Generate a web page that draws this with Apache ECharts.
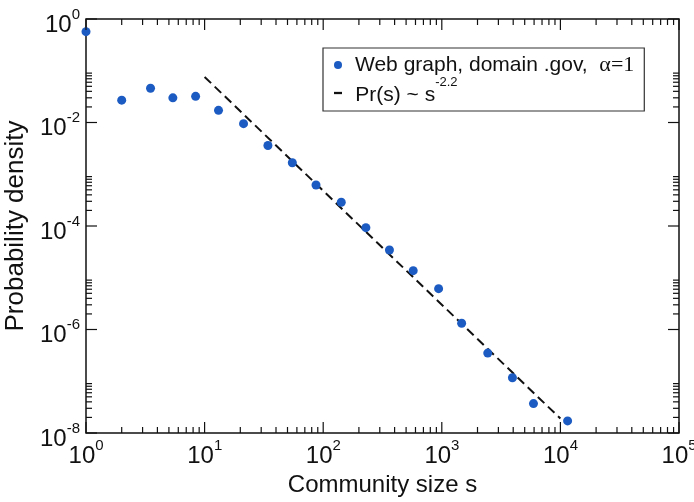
<!DOCTYPE html>
<html>
<head>
<meta charset="utf-8">
<script src="https://cdn.jsdelivr.net/npm/echarts@6.0.0/dist/echarts.min.js"></script>
<style>
  html, body { margin: 0; padding: 0; background: #fff; }
  #chart { width: 694px; height: 502px; }
</style>
</head>
<body>
<div id="chart"></div>
<script>
// Community size distribution, web graph (domain .gov)
const sizes   = [1, 2.0, 3.5, 5.4, 8.4, 13.1, 21.3, 34.2, 54.9, 87, 142, 229, 362, 574, 940, 1470, 2440, 3940, 5930, 11500];
const density = [0.57, 0.027, 0.046, 0.030, 0.032, 0.0172, 0.0095, 0.0036, 0.00167, 6.2e-4, 2.87e-4, 9.3e-5, 3.44e-5, 1.37e-5, 6.15e-6, 1.32e-6, 3.5e-7, 1.17e-7, 3.7e-8, 1.71e-8];

// Power-law guide Pr(s) ~ s^-2.2, end points
const fitSizes   = [10, 10000];
const fitDensity = [0.076, 1.9e-8];

// Axis tick values
const xDecades = [1, 10, 100, 1000, 10000, 100000];
const yLabelled = [1, 1e-2, 1e-4, 1e-6, 1e-8];
const minorMultipliers = [2, 3, 4, 5, 6, 7, 8, 9];

const X_MIN = 1, X_MAX = 1e5, Y_MIN = 1e-8, Y_MAX = 1;

const scatterName = 'Web graph, domain .gov,  \u03b1=1';
const fitName = 'Pr(s) ~ s-2.2';

// tick items: [x, y, axis (0 = x, 1 = y), major flag]
const tickItems = [];
xDecades.forEach(function (d, i) {
  tickItems.push([d, Y_MIN, 0, 1]);
  if (i < xDecades.length - 1) {
    minorMultipliers.forEach(function (k) { tickItems.push([d * k, Y_MIN, 0, 0]); });
  }
});
yLabelled.forEach(function (d, i) {
  tickItems.push([X_MIN, d, 1, 1]);
  if (i > 0) {
    minorMultipliers.forEach(function (k) { tickItems.push([X_MIN, d * k, 1, 0]); });
  }
});

function renderTick(params, api) {
  const axis = api.value(2);
  const len = api.value(3) ? 11 : 6;
  const style = { stroke: '#111', lineWidth: 1.2 };
  let a, b;
  if (axis === 0) {
    const v = api.value(0);
    a = api.coord([v, Y_MIN]);
    b = api.coord([v, Y_MAX]);
    return { type: 'group', children: [
      { type: 'line', shape: { x1: a[0], y1: a[1], x2: a[0], y2: a[1] - len }, style: style },
      { type: 'line', shape: { x1: b[0], y1: b[1], x2: b[0], y2: b[1] + len }, style: style }
    ] };
  }
  const v = api.value(1);
  a = api.coord([X_MIN, v]);
  b = api.coord([X_MAX, v]);
  return { type: 'group', children: [
    { type: 'line', shape: { x1: a[0], y1: a[1], x2: a[0] + len, y2: a[1] }, style: style },
    { type: 'line', shape: { x1: b[0], y1: b[1], x2: b[0] - len, y2: b[1] }, style: style }
  ] };
}

// a thin spacer fixes the line box at 36px: "10" sits at its bottom, the exponent near its top
function powLabel(v) {
  const e = Math.round(Math.log10(v));
  return '{h| }{b|10}{e|' + e + '}';
}

const FONT = '"Liberation Sans", Arial, Helvetica, sans-serif';

const powRich = {
  h: { fontFamily: FONT, fontSize: 1, lineHeight: 36, verticalAlign: 'middle' },
  b: { fontFamily: FONT, fontSize: 24, lineHeight: 24, verticalAlign: 'bottom', color: '#111' },
  e: { fontFamily: FONT, fontSize: 15, lineHeight: 15, padding: [6, 0, 0, 0], verticalAlign: 'top', color: '#111' }
};

const chart = echarts.init(document.getElementById('chart'), null, { renderer: 'canvas' });
chart.setOption({
  animation: false,
  backgroundColor: '#ffffff',
  grid: {
    left: 86, top: 19, right: 15, bottom: 69,
    outerBoundsMode: 'none', containLabel: false,
    show: true, borderColor: '#111', borderWidth: 1.5, backgroundColor: 'transparent'
  },
  xAxis: {
    type: 'log', logBase: 10, min: X_MIN, max: X_MAX, splitNumber: 5,
    name: 'Community size s', nameLocation: 'middle', nameGap: 40,
    nameTextStyle: { fontFamily: FONT, fontSize: 24, color: '#111' },
    axisLine: { show: false }, axisTick: { show: false }, splitLine: { show: false },
    axisLabel: {
      margin: -1, color: '#111', fontFamily: FONT,
      customValues: xDecades,
      formatter: powLabel,
      rich: powRich
    }
  },
  yAxis: {
    type: 'log', logBase: 10, min: Y_MIN, max: Y_MAX, splitNumber: 4,
    name: 'Probability density', nameLocation: 'middle', nameGap: 53,
    nameTextStyle: { fontFamily: FONT, fontSize: 26, color: '#111' },
    axisLine: { show: false }, axisTick: { show: false }, splitLine: { show: false },
    axisLabel: {
      margin: 6, color: '#111', fontFamily: FONT,
      customValues: yLabelled,
      formatter: powLabel,
      rich: powRich
    }
  },
  legend: {
    orient: 'vertical', left: 323, top: 48,
    backgroundColor: '#fff', borderColor: '#333', borderWidth: 1.2,
    padding: [6, 10, 5, 11], itemGap: 0, itemWidth: 8, itemHeight: 8,
    textStyle: {
      fontFamily: FONT, fontSize: 21, color: '#111',
      rich: {
        h: { fontFamily: FONT, fontSize: 1, lineHeight: 26, verticalAlign: 'middle' },
        t: { fontFamily: FONT, fontSize: 21, lineHeight: 26, padding: [0, 0, 0, 8], color: '#111' },
        u: { fontFamily: FONT, fontSize: 21, lineHeight: 20, padding: [0, 0, 0, 8], verticalAlign: 'bottom', color: '#111' },
        g: { fontFamily: '"Liberation Serif", "Times New Roman", serif', fontSize: 22, lineHeight: 26, color: '#111' },
        s: { fontFamily: FONT, fontSize: 13, lineHeight: 12, padding: [-4, 0, 0, 0], verticalAlign: 'top', color: '#111' }
      }
    },
    data: [
      { name: scatterName, icon: 'circle' },
      { name: fitName, icon: 'path://M0,0H7V2H0Z' }
    ],
    formatter: function (name) {
      if (name === scatterName) return '{t|Web graph, domain .gov,  }{g|\u03b1=1}';
      return '{h| }{u|Pr(s) ~ s}{s|-2.2}';
    }
  },
  series: [
    {
      name: scatterName, type: 'scatter', symbol: 'circle', symbolSize: 9,
      itemStyle: { color: '#1c5bc2', opacity: 1 }, clip: false, z: 3,
      data: sizes.map(function (s, i) { return [s, density[i]]; })
    },
    {
      name: fitName, type: 'line', symbol: 'none', color: '#111',
      lineStyle: { color: '#111', width: 2, type: [9, 5] }, z: 2,
      data: fitSizes.map(function (s, i) { return [s, fitDensity[i]]; })
    },
    {
      type: 'custom', renderItem: renderTick, clip: false, silent: true, z: 4,
      encode: { x: 0, y: 1 },
      data: tickItems
    }
  ]
});
</script>
</body>
</html>
